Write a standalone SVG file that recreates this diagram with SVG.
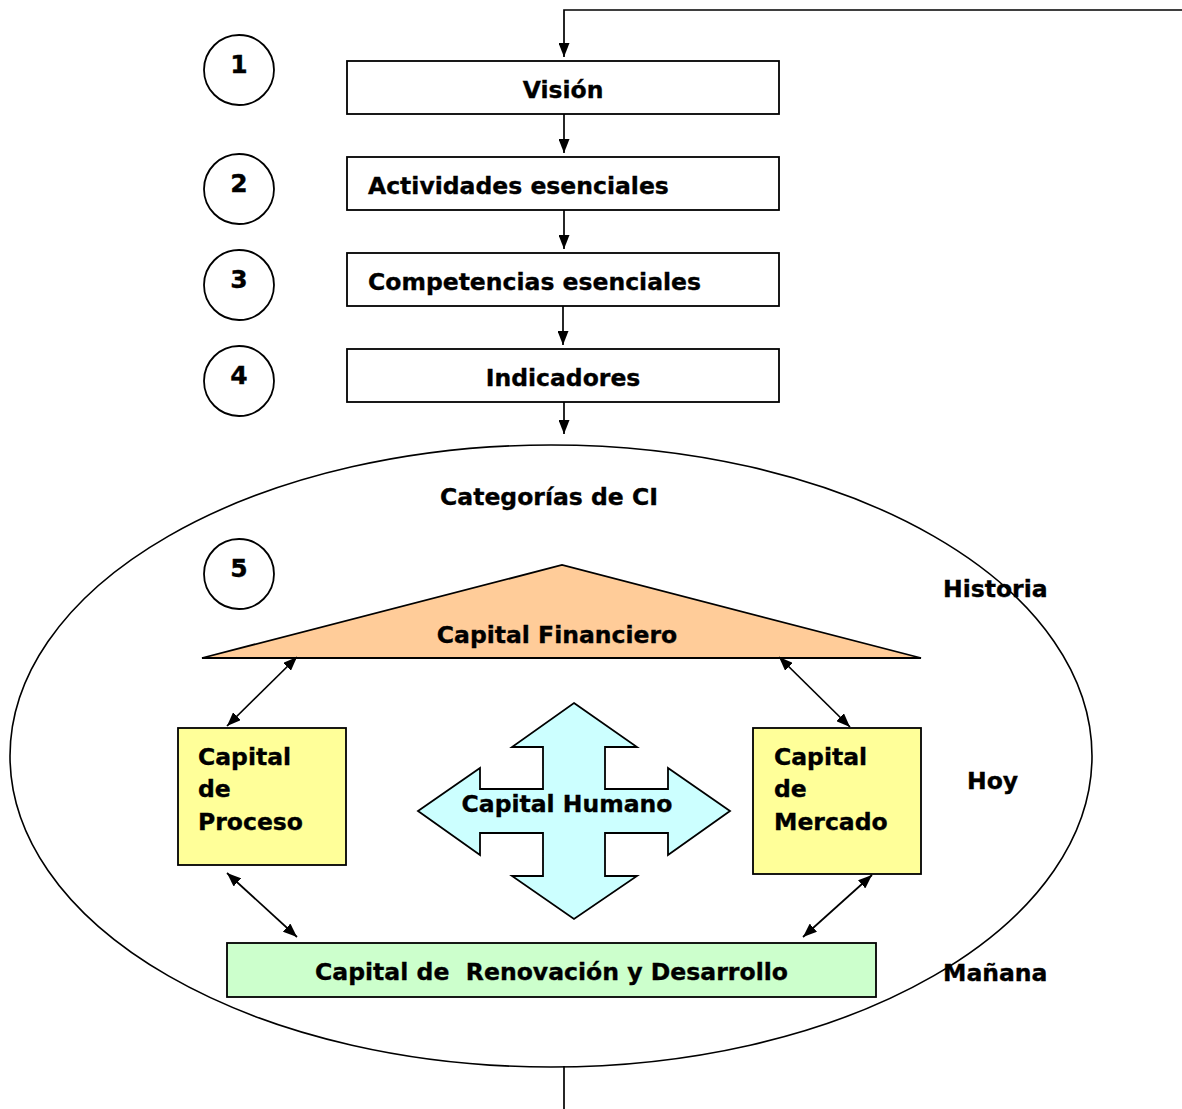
<svg xmlns="http://www.w3.org/2000/svg" width="1182" height="1109" viewBox="0 0 1182 1109">
  <defs>
    <marker id="ah" viewBox="0 0 14 11" refX="14" refY="5.5" markerWidth="14" markerHeight="11" markerUnits="userSpaceOnUse" orient="auto-start-reverse">
      <path d="M0,0 L14,5.5 L0,11 Z" fill="#000"/>
    </marker>
  </defs>
  <style>
    text { font-family: "DejaVu Sans", Verdana, "Liberation Sans", sans-serif; font-weight: bold; fill: #000; white-space: pre; stroke: #000; stroke-width: 0.35; }
    .t { font-size: 23.5px; }
    .num { font-size: 25px; text-anchor: middle; }
    .box { fill: #fff; stroke: #000; stroke-width: 1.8; }
    .circ { fill: #fff; stroke: #000; stroke-width: 1.8; }
    .conn { fill: none; stroke: #000; stroke-width: 1.7; }
    .mid { text-anchor: middle; }
  </style>
  <rect width="1182" height="1109" fill="#fff"/>

  <!-- outer category ellipse -->
  <g id="categorias">
    <ellipse cx="551" cy="756" rx="541" ry="311" fill="none" stroke="#000" stroke-width="1.6"/>
    <text class="t mid" x="549" y="505">Categorías de CI</text>
    <text class="t" x="943" y="597">Historia</text>
    <text class="t" x="967" y="789">Hoy</text>
    <text class="t" x="943" y="981">Mañana</text>
  </g>

  <!-- step numbers -->
  <g id="paso1"><circle class="circ" cx="239" cy="70" r="35"/><text class="num" x="239" y="73">1</text></g>
  <g id="paso2"><circle class="circ" cx="239" cy="189" r="35"/><text class="num" x="239" y="192">2</text></g>
  <g id="paso3"><circle class="circ" cx="239" cy="285" r="35"/><text class="num" x="239" y="288">3</text></g>
  <g id="paso4"><circle class="circ" cx="239" cy="381" r="35"/><text class="num" x="239" y="384">4</text></g>
  <g id="paso5"><circle class="circ" cx="239" cy="574" r="35"/><text class="num" x="239" y="577">5</text></g>

  <!-- process boxes -->
  <g id="vision"><rect class="box" x="347" y="61" width="432" height="53"/><text class="t mid" x="563" y="98">Visión</text></g>
  <g id="actividades"><rect class="box" x="347" y="157" width="432" height="53"/><text class="t" x="368" y="194">Actividades esenciales</text></g>
  <g id="competencias"><rect class="box" x="347" y="253" width="432" height="53"/><text class="t" x="368" y="290">Competencias esenciales</text></g>
  <g id="indicadores"><rect class="box" x="347" y="349" width="432" height="53"/><text class="t mid" x="563" y="386">Indicadores</text></g>

  <!-- capital categories -->
  <g id="financiero">
    <polygon points="202,658 562,565 921,658" fill="#FFCC99" stroke="#000" stroke-width="1.8"/>
    <text class="t mid" x="557" y="643">Capital Financiero</text>
  </g>
  <g id="proceso">
    <rect x="178" y="728" width="168" height="137" fill="#FFFF99" stroke="#000" stroke-width="1.8"/>
    <text class="t" x="198" y="765">Capital</text>
    <text class="t" x="198" y="797">de</text>
    <text class="t" x="198" y="830">Proceso</text>
  </g>
  <g id="mercado">
    <rect x="753" y="728" width="168" height="146" fill="#FFFF99" stroke="#000" stroke-width="1.8"/>
    <text class="t" x="774" y="765">Capital</text>
    <text class="t" x="774" y="797">de</text>
    <text class="t" x="774" y="830">Mercado</text>
  </g>
  <g id="humano">
    <polygon points="574,703 637,747 605,747 605,789 668,789 668,768 730,811 668,855 668,833 605,833 605,876 637,876 574,919 512,876 543,876 543,833 480,833 480,855 418,811 480,768 480,789 543,789 543,747 512,747" fill="#CCFFFF" stroke="#000" stroke-width="1.8"/>
    <text class="t mid" x="567" y="812">Capital Humano</text>
  </g>
  <g id="renovacion">
    <rect x="227" y="943" width="649" height="54" fill="#CCFFCC" stroke="#000" stroke-width="1.8"/>
    <text class="t" x="315" y="980" textLength="473" lengthAdjust="spacingAndGlyphs">Capital de  Renovación y Desarrollo</text>
  </g>

  <!-- connectors -->
  <g id="conectores">
    <polyline class="conn" points="1182,10 564,10 564,57" marker-end="url(#ah)"/>
    <line class="conn" x1="564" y1="114" x2="564" y2="153" marker-end="url(#ah)"/>
    <line class="conn" x1="564" y1="210" x2="564" y2="249" marker-end="url(#ah)"/>
    <line class="conn" x1="563" y1="306" x2="563" y2="345" marker-end="url(#ah)"/>
    <line class="conn" x1="564" y1="402" x2="564" y2="434" marker-end="url(#ah)"/>
    <line class="conn" x1="297" y1="657" x2="227" y2="726" marker-start="url(#ah)" marker-end="url(#ah)"/>
    <line class="conn" x1="779" y1="657" x2="850" y2="727" marker-start="url(#ah)" marker-end="url(#ah)"/>
    <line class="conn" x1="227" y1="873" x2="297" y2="937" marker-start="url(#ah)" marker-end="url(#ah)"/>
    <line class="conn" x1="872" y1="875" x2="803" y2="937" marker-start="url(#ah)" marker-end="url(#ah)"/>
    <line class="conn" x1="564" y1="1066" x2="564" y2="1109"/>
  </g>
</svg>
